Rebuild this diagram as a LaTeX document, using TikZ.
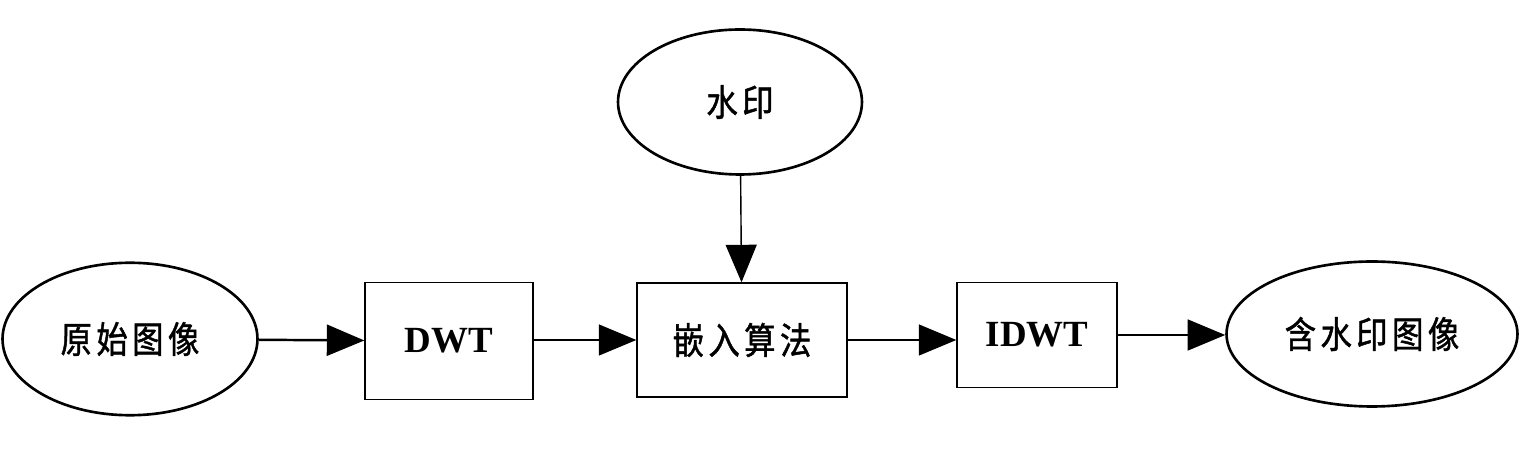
\documentclass[tikz,border=0pt]{standalone}
\usepackage{fontspec}
\setmainfont{Liberation Serif}
\newfontfamily\cjk[LetterSpace=12, FakeStretch=0.85, FakeBold=1.2]{Noto Sans CJK SC}
\usetikzlibrary{arrows.meta,shapes.geometric}

\tikzset{
  blockbox/.style={thick, shape=rectangle, draw=black, font=\fontsize{21}{24}\selectfont\bfseries},
  imgell/.style={line width=1.5pt, shape=ellipse, draw=black, inner sep=0pt, font=\fontsize{21}{24}\selectfont\cjk},
  flow/.style={thick, -{Triangle[length=0.75cm,width=0.62cm]}}
}

\begin{document}
\begin{tikzpicture}[x=0.02cm, y=-0.02cm]
\useasboundingbox (0,0) rectangle (1526,472);
\node[imgell, minimum width=5.1cm, minimum height=3.05cm] (orig) at (130,339) {原始图像};
\node[blockbox, minimum width=3.36cm, minimum height=2.34cm] (dwt) at (449,341) {DWT};
\node[blockbox, minimum width=4.2cm, minimum height=2.28cm, font=\fontsize{21}{24}\selectfont\cjk] (embed) at (742,340) {嵌入算法};
\node[blockbox, minimum width=3.2cm, minimum height=2.1cm] (idwt) at (1037,335) {IDWT};
\node[imgell, minimum width=5.82cm, minimum height=2.9cm] (marked) at (1372,334) {含水印图像};
\node[imgell, minimum width=4.88cm, minimum height=2.9cm] (mark) at (740,102) {水印};

\draw[flow, line width=1.4pt] (orig) -- (dwt);
\draw[flow] (dwt.east |- embed) -- (embed);
\draw[flow] (embed) -- (idwt.west |- embed);
\draw[flow] (idwt) -- (marked.west |- idwt);
\draw[flow] (mark) -- (embed);
\end{tikzpicture}
\end{document}
